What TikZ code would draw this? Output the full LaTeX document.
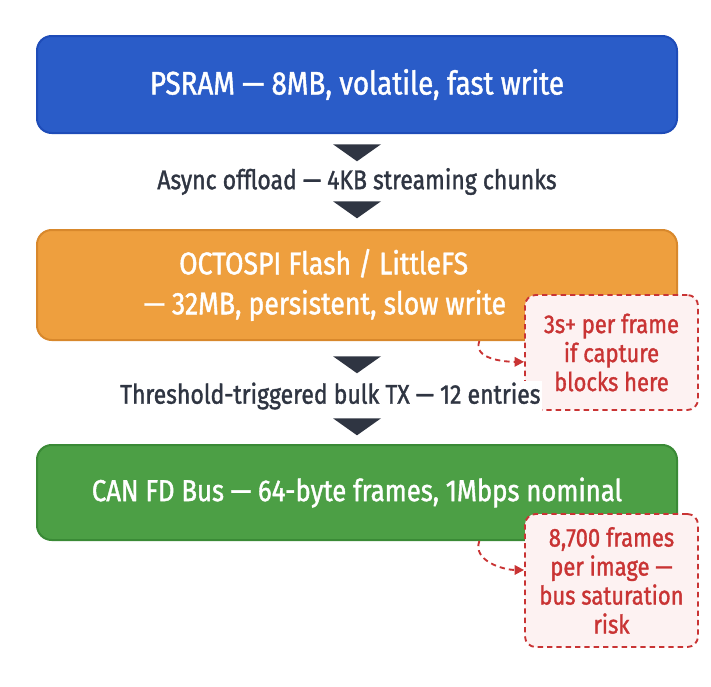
\documentclass[tikz,border=0pt]{standalone}
\usepackage{fontspec}
\setmainfont{Fira Sans}[FakeStretch=0.85,FakeBold=1.3]
\usepackage{xcolor}
\usetikzlibrary{positioning,calc,arrows.meta,shapes.geometric}
\definecolor{psramFill}{RGB}{42,92,200}
\definecolor{psramEdge}{RGB}{30,76,184}
\definecolor{flashFill}{RGB}{238,159,62}
\definecolor{flashEdge}{RGB}{216,136,44}
\definecolor{canFill}{RGB}{76,159,69}
\definecolor{canEdge}{RGB}{58,138,54}
\definecolor{tipColor}{RGB}{47,53,66}
\definecolor{riskRed}{RGB}{201,52,52}
\definecolor{riskFill}{RGB}{253,242,242}
\tikzset{
    tier/.style={
        rectangle,
        rounded corners=11pt,
        line width=1.5pt,
        minimum width=480pt,
        text=white,
        font=\fontsize{24.5}{30}\selectfont,
        align=center
    },
    downtip/.style={
        isosceles triangle,
        isosceles triangle stretches,
        shape border rotate=-90,
        fill=tipColor,
        inner sep=0pt,
        minimum width=36pt,
        minimum height=12.75pt
    },
    flowlabel/.style={
        text=tipColor,
        fill=white,
        inner sep=1pt,
        font=\fontsize{20.3}{24}\selectfont
    },
    note/.style={
        draw=riskRed,
        fill=riskFill,
        dashed,
        dash pattern=on 4pt off 3pt,
        line width=1.4pt,
        rounded corners=8pt,
        text=riskRed,
        align=center,
        minimum width=129.75pt,
        font=\fontsize{19.4}{21.75}\selectfont
    },
    noteptr/.style={
        -{Triangle[length=7pt,width=7pt]},
        draw=riskRed,
        line width=1.4pt,
        dash pattern=on 4pt off 3pt
    }
}
\begin{document}
\begin{tikzpicture}[x=0.75pt,y=-0.75pt]
    \useasboundingbox (0,0) rectangle (711,686);

    % memory tiers
    \node[tier, fill=psramFill, draw=psramEdge, minimum height=72.75pt] (psram) at (357,84.5) {PSRAM — 8MB, volatile, fast write};
    \node[tier, fill=flashFill, draw=flashEdge, minimum height=82.5pt, font=\fontsize{23.5}{30}\selectfont] (octo) at (357,285) {OCTOSPI Flash / LittleFS\hspace*{50pt}\\— 32MB, persistent, slow write\hspace*{48pt}};
    \node[tier, fill=canFill, draw=canEdge, minimum height=71.25pt, font=\fontsize{22.7}{30}\selectfont] (canfd) at (357,492.5) {CAN FD Bus — 64-byte frames, 1Mbps nominal};

    % risk notes
    \node[note, minimum height=86.25pt] (stallNote) at (611.5,352.5) {3s+ per frame\\if capture\\blocks here};
    \node[note, minimum height=99.75pt] (busNote) at (611.5,580.5) {8,700 frames\\per image —\\bus saturation\\risk};

    % flow steps
    \node[downtip, below=7.5pt of psram] (tipA) {};
    \node[downtip, above=7.5pt of octo] (tipB) {};
    \node[flowlabel] (offload) at ($(tipA.south)!0.5!(tipB.north)$) {Async offload — 4KB streaming chunks};

    \node[downtip, below=11.25pt of octo] (tipC) {};
    \node[downtip, above=6pt of canfd] (tipD) {};
    \node[flowlabel, xshift=-20pt] (bulktx) at ($(tipC.south)!0.5!(tipD.north)$) {Threshold-triggered bulk TX — 12 entries};

    \draw[noteptr] ([xshift=-149pt]octo.south east) to[out=-110, in=180] ([yshift=-7pt]stallNote.west);
    \draw[noteptr] ([xshift=-149pt]canfd.south east) to[out=-110, in=180] ([yshift=7.9pt]busNote.west);
\end{tikzpicture}
\end{document}
